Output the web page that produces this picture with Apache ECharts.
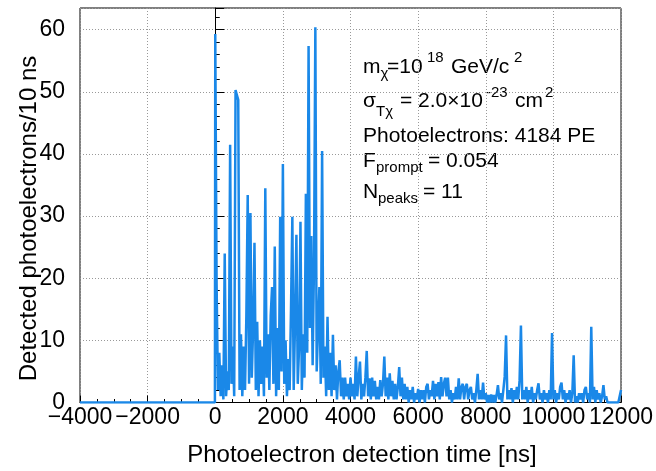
<!DOCTYPE html>
<html><head><meta charset="utf-8">
<script src="https://cdn.jsdelivr.net/npm/echarts@6/dist/echarts.min.js"></script>
<style>html,body{margin:0;padding:0;background:#fff}#c{width:656px;height:471px}</style>
</head><body><div id="c"></div>
<script>
// ---- data ----
const preTriggerTimes = [-4000, -10];
const preTriggerCounts = [0, 0];
const binWidthNs = 40;           // displayed bin spacing (ns), bins start at t = 0
const counts = [
 59.3,19,2,8,1,6,0.5,24,1,5,
 2,41.5,3,9,1,50.3,49.5,48.7,2,11,
 1,9,2,14,33.4,3,30.5,4,12,25.7,
 2,13,1,10,3,9,1,34.5,4,11,
 2,14,18.6,3,25.1,1,12,2,29.9,5,
 38.4,3,10,1,7,2,15,29.9,2,13,
 27,3,9,29.1,2,11,4,33.6,8,57.4,
 12,26.8,6,22,60.4,5,12,18.6,3,40.5,
 4,9,1,13.8,2,8,1,10.9,2,6,
 0.5,5,6.8,1,4,0.5,4,1,3,0.5,
 4,1,3,0.5,7.4,1,4,6.6,0.5,3,
 1,4,8.3,1,3.9,0.5,4,1,3.5,0.5,
 2.5,0.5,3.6,1,3,7.4,1,4,0.5,4.7,
 1,3.5,0.5,3,0.5,2.5,5.7,1,4,0.5,
 3,0.5,2.5,0,2,0.5,2.5,0,1.5,0.5,
 2.2,0,2,0.5,2,0,2.5,3,0.5,2,
 1,3.5,0.5,3,1,3.3,0.5,4.1,1,3,
 4,1,4,0.5,2,0,1.5,0.5,2.5,0.5,
 3.9,0.5,2.5,3,0.5,2.5,3,0.5,2,2.5,
 0.5,1.5,0,2,4.6,0.5,2,0.5,3.2,0.5,
 1.5,0,1.2,0,1.3,0,1.2,0,1.2,2.8,
 0.5,1.5,0,2,4.2,10.8,0.5,2,0.5,2.3,
 0,2,0.5,2.5,0.5,3.6,12.4,0.5,2,0.5,
 2.5,0,2,0.5,2.5,0,1.5,0.5,2,3.1,
 0.5,1.5,0,2,0.5,1.5,0,2,0.5,11.2,
 0.5,2,0,1.5,0.5,2.5,3.2,0.5,2,0,
 1.5,0.5,2,0,1.5,7.6,0,1,0,1.5,
 0.5,1.5,0,2,2.5,0.5,1.5,0,12.2,0.5,
 2.5,0,2,0.5,1.5,0,1,2.8,0.5,1,
 0,0,0,0,0,0,0,0,0,1,
 2
];
const xTickValues = [-4000,-2000,0,2000,4000,6000,8000,10000,12000];
const yTickValues = [0,10,20,30,40,50,60];
const annotationLines = [
  "m", "χ", "=10", "18", "GeV/c", "2",
  "σ", "Tχ", "= 2.0×10", "-23", "cm", "2",
  "Photoelectrons: 4184 PE",
  "F", "prompt", "= 0.054",
  "N", "peaks", "= 11"
];
const xTitle = "Photoelectron detection time [ns]";
const yTitle = "Detected photoelectrons/10 ns";

// ---- build ----
const seriesData = [];
preTriggerTimes.forEach((t, k) => seriesData.push([t, preTriggerCounts[k]]));
counts.forEach((v, i) => seriesData.push([i * binWidthNs, v]));

const FONT = "'Liberation Sans', Arial, Helvetica, sans-serif";
const BLUE = '#1a88e8';

function txt(s, x, baseline, size) {
  return {
    type: 'text', x: x, y: baseline - 0.35 * size, silent: true,
    style: { text: s, font: size + 'px ' + FONT, fill: '#000', textAlign: 'left', textVerticalAlign: 'middle', verticalAlign: 'middle' }
  };
}
const A = annotationLines;
const graphics = [
  txt(A[0], 363, 75, 21), txt(A[1], 380.5, 79.5, 15), txt(A[2], 387, 75, 21),
  txt(A[3], 427, 63, 15), txt(A[4], 451, 75, 21), txt(A[5], 514, 63, 15),
  txt(A[6], 363, 108.3, 21), txt(A[7], 376, 117.4, 15), txt(A[8], 400, 108.3, 21),
  txt(A[9], 486, 98.3, 15), txt(A[10], 515, 108.3, 21), txt(A[11], 545, 98.3, 15),
  txt(A[12], 363, 144, 21),
  txt(A[13], 363, 168.3, 21), txt(A[14], 376, 172.8, 15), txt(A[15], 428, 168.3, 21),
  txt(A[16], 363, 199.3, 21), txt(A[17], 378, 204, 15), txt(A[18], 423, 199.3, 21),
  { type: 'text', x: 362, y: 455.6, silent: true,
    style: { text: xTitle, font: '24px ' + FONT, fill: '#000', textAlign: 'center', textVerticalAlign: 'middle', verticalAlign: 'middle' } },
  { type: 'text', x: 29, y: 218.5, rotation: Math.PI / 2, silent: true,
    style: { text: yTitle, font: '24px ' + FONT, fill: '#000', textAlign: 'center', textVerticalAlign: 'middle', verticalAlign: 'middle' } }
];

const chart = echarts.init(document.getElementById('c'), null, { renderer: 'canvas' });
chart.setOption({
  animation: false,
  backgroundColor: '#fff',
  grid: { left: 80, right: 29, top: 8, bottom: 68.5, show: true, borderColor: '#000', borderWidth: 1, backgroundColor: 'transparent' },
  xAxis: {
    type: 'value', min: xTickValues[0], max: xTickValues[xTickValues.length - 1], interval: 2000,
    axisLine: { show: true, onZero: false, lineStyle: { color: '#000', width: 1 } },
    axisTick: { show: true, inside: true, length: 7, lineStyle: { color: '#000' } },
    minorTick: { show: true, splitNumber: 4, length: 3.5, lineStyle: { color: '#000' } },
    splitLine: { show: true, lineStyle: { color: '#999', type: [1, 2], width: 1 } },
    axisLabel: { fontFamily: FONT, fontSize: 23, color: '#000', margin: 4,
      formatter: v => xTickValues.indexOf(v) >= 0 ? String(v).replace('-', '\u2212') : '' }
  },
  yAxis: {
    type: 'value', min: 0, max: 63.5, interval: 10,
    axisLine: { show: true, lineStyle: { color: '#000', width: 1 } },
    axisTick: { show: true, inside: true, length: 9, lineStyle: { color: '#000' } },
    minorTick: { show: true, splitNumber: 5, length: 4.5, lineStyle: { color: '#000' } },
    splitLine: { show: true, lineStyle: { color: '#999', type: [1, 2], width: 1 } },
    axisLabel: { fontFamily: FONT, fontSize: 23, color: '#000', margin: 15, showMaxLabel: false,
      formatter: v => yTickValues.indexOf(v) >= 0 ? String(v) : '' }
  },
  series: [{
    type: 'line', data: seriesData, showSymbol: false, symbol: 'none', sampling: false,
    lineStyle: { color: BLUE, width: 2.5 }, clip: true, z: 3
  }],
  graphic: graphics
});
</script></body></html>
